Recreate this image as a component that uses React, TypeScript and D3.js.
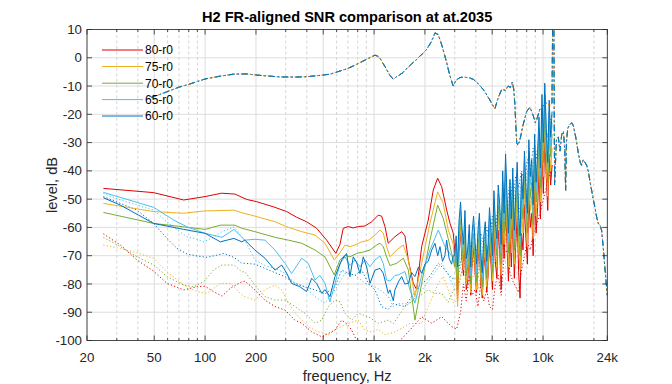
import React from "react";
import * as d3 from "d3";

// ---------- axes ----------
const X_TICKS = [20, 50, 100, 200, 500, 1000, 2000, 5000, 10000, 24000];
const X_TICK_LABELS = ["20", "50", "100", "200", "500", "1k", "2k", "5k", "10k", "24k"];
const X_MINOR = [30, 40, 60, 70, 80, 90, 300, 400, 600, 700, 800, 900, 3000, 4000, 6000, 7000, 8000, 9000, 20000];
const Y_TICKS = [10, 0, -10, -20, -30, -40, -50, -60, -70, -80, -90, -100];

const LEVELS = ["80-r0", "75-r0", "70-r0", "65-r0", "60-r0"];
const COLORS = ["#e00000", "#edb120", "#77ac30", "#4dbeee", "#0072bd"];

// ---------- FR reference curve (dash-dot) ----------
const FR_F = [48, 55, 62, 70, 81, 90, 100, 120, 147, 175,
  200, 230, 265, 300, 350, 400, 450, 548, 620, 690,
  760, 826, 900, 960, 1012, 1050, 1084, 1130, 1186, 1240,
  1298, 1350, 1420, 1482, 1560, 1640, 1720, 1786, 1860, 1950,
  2048, 2150, 2240, 2292, 2340, 2398, 2500, 2600, 2688, 2800,
  2940, 3050, 3220, 3400, 3528, 3700, 3862, 4100, 4427, 4800,
  5000, 5190, 5400, 5688, 6000, 6222, 6400, 6577, 6700, 6822,
  6900, 6980, 7100, 7300, 7600, 8000, 8360, 8700, 9000, 9160,
  9600, 10020, 10500, 11000, 11300, 11450, 11550, 11700, 12000, 12300,
  12600, 12900, 13200, 13450, 13600, 13750, 14000, 14400, 14800, 15100,
  15600, 16200, 16600, 16900, 17300, 17700, 18100, 18500, 19000, 19400,
  19800, 20300, 20700, 21200, 21700, 22200, 22700, 23200, 23600, 24000];
const FR_DB = [-14, -12.8, -11.6, -10.4, -9.3, -8.4, -7.5, -6.6, -5.8, -5.7,
  -6.1, -6.4, -6.7, -6.8, -6.8, -6.7, -6.4, -5.8, -4.8, -3.9,
  -2.8, -1.7, -0.6, 0.3, 0.9, 0.6, -0.2, -2, -4.1, -6.2,
  -7.6, -6.8, -6, -5.2, -3.8, -2.6, -1.4, -0.6, 0.5, 1.6,
  3, 5, 7.2, 8.8, 8.5, 8.2, 5, 1.5, -1.7, -6,
  -10, -8, -7, -6.8, -7, -7.2, -7.6, -9, -11.2, -14.5,
  -16.5, -18, -14.5, -11.2, -11.5, -10, -10.5, -8.6, -11, -17,
  -24, -30, -31, -29, -24, -19, -17.5, -20, -23, -22,
  -18, -17, -16, -17, -16, 30, 30, -45, -29, -28,
  -33, -27, -26, -33, -47, -30, -25, -23.5, -23, -24,
  -28, -34, -37, -38, -36, -37, -38, -40, -44, -47,
  -50, -53, -56, -58.6, -59, -61, -67, -74, -79, -84];

// ---------- solid curves, low/mid band ----------
const S80_F = [25, 49.6, 74.7, 100, 125, 150, 176, 202, 253, 304,
  348, 399, 457, 524, 594, 628, 657, 704, 753, 806,
  884, 968, 1058, 1108, 1160, 1213, 1328, 1456, 1523, 1594,
  1706, 1786, 1912, 2092, 2240, 2378, 2512, 2688, 2812, 2940];
const S80_DB = [-46.2, -47.7, -50.3, -49.1, -47.9, -48.2, -50.1, -50.9, -52.7, -54.4,
  -56.4, -58, -60.3, -64.5, -69.2, -66, -60.3, -59.7, -60.2, -59.7,
  -59.5, -58, -55.7, -56, -59.7, -65.6, -63.3, -61.5, -63, -71.5,
  -79.8, -82, -66.8, -57.4, -46.8, -42.6, -45.6, -53.8, -58.5, -62];

const S75_F = [25, 49.6, 74.7, 98, 148, 165, 197, 259, 311, 373,
  447, 512, 581, 628, 673, 720, 771, 844, 925, 1012,
  1084, 1133, 1186, 1242, 1361, 1489, 1594, 1745, 1912, 2142,
  2378, 2566, 2747, 2940];
const S75_DB = [-51.5, -54.4, -55, -54.2, -53.9, -54.8, -56, -58, -60, -61.5,
  -62.7, -65.6, -71.5, -69, -66.2, -66.8, -66.2, -65.1, -64.6, -62.7,
  -60.9, -62, -66.8, -70.4, -68, -66.2, -71.5, -84.5, -72.7, -58.5,
  -47.4, -51.5, -60.9, -66];

const S70_F = [25, 49.6, 74.7, 100, 123, 150, 165, 197, 259, 311,
  373, 447, 512, 581, 628, 673, 720, 789, 863, 946,
  1036, 1084, 1133, 1186, 1242, 1361, 1489, 1594, 1745, 1912,
  2142, 2378, 2566, 2747, 2940];
const S70_DB = [-54.7, -58.6, -59.8, -60.7, -59.2, -59.2, -60.3, -61.5, -63.5, -64.5,
  -65.6, -68, -70.4, -76.8, -71.5, -69.8, -70.4, -69.2, -68.7, -68,
  -66.2, -65.6, -66.8, -70.4, -73.5, -72.7, -70.9, -75, -92.8, -79.8,
  -64.5, -52.1, -56.8, -64, -71.5];

const S65_F = [25, 49.6, 65.2, 78.2, 100, 126, 148, 165, 172, 197,
  226, 259, 297, 325, 373, 408, 447, 478, 512, 548,
  587, 628, 673, 720, 771, 825, 884, 946, 1012, 1084,
  1133, 1186, 1242, 1328, 1391, 1523, 1630, 1745, 1912, 2142,
  2400, 2625, 2876];
const S65_DB = [-47.6, -52.9, -57.4, -59.8, -62.1, -63.5, -60.7, -63.5, -64.5, -64.2,
  -64.5, -68, -72.7, -76.3, -70.9, -72.7, -78.6, -77, -79.8, -86.3,
  -80, -72.7, -70.4, -73.5, -71.5, -73.9, -71.5, -73.9, -71.5, -70.1,
  -72.7, -78.6, -79, -77, -76.8, -75.6, -82.1, -86.8, -77, -68,
  -60.9, -66.8, -70];

const S60_F = [25, 31.5, 49.6, 74.7, 100, 123, 148, 165, 172, 197,
  226, 259, 284, 304, 325, 364, 399, 427, 457, 490,
  512, 548, 587, 643, 688, 720, 753, 789, 825, 863,
  904, 946, 1012, 1084, 1133, 1213, 1242, 1300, 1328, 1400,
  1456, 1520, 1594, 1670, 1745, 1830, 1912, 2000, 2092, 2192,
  2292, 2380, 2455, 2540, 2625, 2688, 2780, 2876, 2940];
const S60_DB = [-49.5, -52.1, -58.6, -60.7, -62.1, -65.1, -63.9, -65.1, -64.5, -68,
  -70.9, -75.1, -73.3, -76.2, -79.8, -81, -82.7, -78, -79.8, -83.3,
  -82, -84.5, -77.4, -71.5, -69.2, -77.4, -70.4, -72.5, -76.3, -70.4,
  -74, -79.8, -75.1, -74.5, -76.2, -83.3, -82.1, -86, -82.1, -79,
  -77.4, -80, -79.8, -76, -77.4, -74, -76.2, -73, -72, -68,
  -65.6, -70, -66.8, -72, -70, -64.5, -71, -73, -70];

// ---------- solid curves, noisy high band ----------
const NOISE_F = [3000, 3060, 3120, 3180, 3250, 3310, 3380, 3450, 3510, 3580,
  3660, 3730, 3800, 3880, 3960, 4040, 4120, 4200, 4280, 4370,
  4460, 4550, 4640, 4730, 4820, 4920, 5020, 5120, 5220, 5330,
  5430, 5540, 5650, 5770, 5880, 6000, 6120, 6240, 6370, 6490,
  6620, 6760, 6890, 7030, 7170, 7310, 7460, 7610, 7760, 7920,
  8080, 8240, 8400, 8570, 8740, 8920, 9100, 9280, 9460, 9650,
  9850, 10040, 10240, 10450, 10660, 10870, 11090, 11310];
const S80_HF = [-68, -74, -86, -69, -62, -71, -77, -65, -82, -79,
  -70, -84, -73, -67, -76, -83, -72, -66, -80, -85,
  -74, -69, -83, -77, -65, -73, -82, -62, -72, -78,
  -61, -68, -82, -57, -71, -52, -66, -79, -61, -74,
  -57, -78, -66, -56, -76, -85, -62, -68, -52, -64,
  -73, -48, -60, -55, -70, -46, -62, -53, -40, -57,
  -32, -48, -28, -42, -54, -34, -45, -38];
const S75_HF = [-74, -72, -88, -67, -60, -69, -75, -63, -80, -77,
  -68, -83, -71, -65, -74, -82, -70, -64, -78, -84,
  -72, -67, -81, -75, -62, -70, -79, -58, -68, -74,
  -56, -63, -77, -52, -66, -47, -61, -74, -56, -69,
  -52, -73, -60, -50, -67, -75, -54, -62, -46, -58,
  -67, -42, -54, -49, -64, -40, -56, -47, -34, -51,
  -27, -42, -22, -37, -49, -28, -40, -32];
const S70_HF = [-74, -69, -82, -64, -57, -66, -72, -60, -77, -74,
  -65, -80, -68, -62, -71, -79, -67, -61, -75, -81,
  -69, -64, -78, -72, -59, -67, -76, -54, -64, -70,
  -52, -59, -73, -48, -62, -42, -56, -69, -51, -64,
  -47, -68, -55, -45, -62, -70, -49, -57, -41, -53,
  -62, -37, -49, -44, -59, -35, -51, -42, -29, -46,
  -22, -37, -17, -32, -44, -23, -35, -27];
const S65_HF = [-72, -66, -77, -61, -54, -63, -69, -57, -74, -71,
  -62, -77, -65, -59, -68, -76, -64, -58, -72, -78,
  -66, -61, -75, -69, -56, -64, -73, -50, -61, -67,
  -48, -55, -69, -44, -58, -38, -52, -65, -47, -60,
  -43, -64, -51, -41, -58, -66, -45, -53, -37, -49,
  -58, -33, -45, -40, -55, -31, -47, -38, -25, -42,
  -17, -33, -13, -28, -40, -19, -31, -23];
const S60_HF = [-70, -63, -74, -58, -51, -60, -66, -54, -71, -68,
  -59, -74, -62, -56, -65, -73, -61, -55, -69, -76,
  -63, -58, -72, -66, -53, -61, -70, -47, -58, -64,
  -45, -52, -66, -40, -55, -34, -49, -62, -43, -57,
  -39, -61, -48, -37, -55, -63, -41, -50, -33, -46,
  -55, -29, -42, -36, -52, -27, -44, -34, -21, -39,
  -13, -30, -9, -25, -37, -15, -28, -19];

// ---------- dotted curves, low/mid band ----------
const D80_F = [25, 31.5, 39.5, 49.6, 59.5, 74.7, 89.5, 100, 112, 126,
  141, 165, 172, 197, 226, 259, 297, 340, 373, 427,
  490, 536, 587, 643, 688, 737, 789, 850, 1000, 1250,
  1456, 1630, 1912, 2192, 2512, 2876];
const D80_DB = [-62.3, -66.2, -71.5, -75.5, -79.8, -82.1, -81, -80.8, -82.7, -84.3,
  -81.5, -79.2, -79, -82.1, -85.7, -88, -89.2, -92.8, -93.9, -96.9,
  -98.7, -97.5, -96.3, -92.8, -94, -96.3, -100, -103, -104, -103,
  -99.4, -96.3, -91.6, -93.9, -91.6, -95.1];

const D75_F = [25, 31.5, 39.5, 49.6, 59.5, 74.7, 89.5, 102.6, 123, 141,
  165, 172, 197, 226, 259, 284, 311, 356, 408, 467,
  536, 587, 643, 704, 806, 884, 968, 1058, 1160, 1328,
  1523, 1630, 1912, 2092, 2400, 2566, 2747, 2950];
const D75_DB = [-66.2, -67.5, -69, -70.9, -75.7, -80.4, -82.7, -83.3, -79.8, -79.8,
  -83.9, -84.5, -85.7, -82, -80.4, -82.1, -86.8, -91.6, -95.1, -96.9,
  -98, -96.3, -95, -93.9, -92.8, -96.3, -97, -96, -98, -97,
  -95, -94, -93.9, -88, -79.8, -77.4, -82, -86.8];

const D70_F = [25, 31.5, 39.5, 49.6, 59.5, 74.7, 85.6, 98.1, 112, 126,
  148, 165, 172, 197, 226, 259, 297, 340, 390, 447,
  490, 536, 587, 628, 673, 737, 806, 925, 1058, 1213,
  1300, 1523, 1700, 2092, 2292, 2512, 2747, 2950];
const D70_DB = [-63.5, -66.8, -70.4, -73.3, -77.4, -80.4, -81, -79.2, -75.1, -73.3,
  -73.3, -75.7, -75.7, -80.4, -84.5, -85.7, -85.7, -88, -90.4, -93.9,
  -92.8, -88, -85.7, -86.3, -90.4, -92.8, -90.4, -91.6, -93.9, -92.8,
  -94, -88, -86, -82.1, -83.3, -83.3, -86.5, -82.1];

const D65_F = [25, 31.5, 39.5, 49.6, 59.5, 68.2, 78.2, 89.5, 98.1, 112,
  126, 148, 165, 172, 197, 226, 259, 297, 340, 390,
  447, 512, 587, 673, 771, 884, 1012, 1108, 1213, 1300,
  1400, 1600, 1825, 2192, 2512, 2747, 2950];
const D65_DB = [-48, -50.3, -52.1, -53.9, -58, -60.9, -63.3, -64.2, -65.1, -63.5,
  -61.5, -59.8, -63.3, -64.5, -71.5, -73.5, -74.5, -76.2, -79.8, -81,
  -84.5, -86.8, -82.1, -76.2, -76.8, -79.8, -81, -82.5, -84.5, -88,
  -87, -87, -84, -77.4, -72.7, -76.7, -81];

const D60_F = [25, 31.5, 39.5, 49.6, 59.5, 68.2, 78.2, 89.5, 102.6, 117.5,
  128.8, 148, 165, 172, 197, 226, 259, 297, 340, 390,
  447, 512, 587, 643, 704, 771, 844, 925, 1012, 1108,
  1213, 1300, 1523, 1825, 2092, 2400, 2625, 2876];
const D60_DB = [-49.1, -51.5, -53.9, -58.6, -63.9, -67.4, -69.4, -70.1, -70.6, -69.8,
  -69.2, -70.6, -72.7, -72.7, -73, -74.5, -76, -77.4, -79.8, -81,
  -82.1, -83.5, -81, -75.1, -76.2, -77, -75.1, -79.8, -82.1, -88,
  -89, -87, -88, -81, -78, -72.7, -75, -78];

// ---------- dotted curves, high band ----------
const DOT_HF_F = [3080, 3250, 3380, 3510, 3660, 3800, 3960, 4120, 4280, 4460,
  4640, 4820, 5020, 5220, 5430, 5650, 5880, 6120, 6370, 6620,
  6890, 7170, 7460, 7760, 8080, 8400, 8740, 9100, 9460, 9850,
  10240, 10660, 11090, 11310];
const D80_HF = [-96, -90, -80, -86, -77, -84, -82, -88, -80, -86,
  -82, -88, -89, -80, -77, -84, -70, -68, -76, -79,
  -81, -83, -75, -70, -65, -68, -62, -60, -56, -52,
  -48, -44, -40, -38];
const D75_HF = [-86, -76, -74, -80, -72, -78, -76, -82, -77, -72,
  -76, -70, -68, -74, -66, -62, -70, -60, -64, -58,
  -66, -56, -60, -52, -56, -50, -48, -52, -44, -40,
  -42, -36, -34, -32];
const D70_HF = [-82, -78, -72, -76, -70, -74, -70, -78, -68, -72,
  -66, -70, -62, -66, -60, -64, -56, -62, -54, -58,
  -52, -56, -48, -52, -46, -50, -42, -46, -38, -42,
  -34, -36, -30, -28];
const D65_HF = [-80, -74, -70, -74, -66, -72, -68, -72, -64, -70,
  -62, -66, -58, -62, -54, -60, -52, -56, -48, -54,
  -46, -50, -44, -48, -40, -44, -36, -40, -32, -36,
  -28, -32, -26, -24];
const D60_HF = [-78, -72, -68, -72, -64, -70, -66, -70, -62, -66,
  -60, -64, -56, -60, -52, -56, -48, -52, -44, -50,
  -42, -46, -40, -44, -36, -40, -32, -36, -28, -32,
  -24, -28, -22, -20];

const SOLID = [
  [S80_F, S80_DB, S80_HF],
  [S75_F, S75_DB, S75_HF],
  [S70_F, S70_DB, S70_HF],
  [S65_F, S65_DB, S65_HF],
  [S60_F, S60_DB, S60_HF],
];
const DOTTED = [
  [D80_F, D80_DB, D80_HF],
  [D75_F, D75_DB, D75_HF],
  [D70_F, D70_DB, D70_HF],
  [D65_F, D65_DB, D65_HF],
  [D60_F, D60_DB, D60_HF],
];

const FONT = "'Liberation Sans', Arial, Helvetica, sans-serif";

export default function App() {
  const L = 87, R = 607.3, T = 29.5, B = 340.5;
  const x = d3.scaleLog().domain([20, 24000]).range([L, R]);
  const y = d3.scaleLinear().domain([-100, 10]).range([B, T]);
  const line = d3.line<[number, number]>().x((d) => x(d[0])).y((d) => y(d[1]));
  const zip = (f: number[], v: number[]) => f.map((ff, i) => [ff, v[i]] as [number, number]);

  const solidPaths = SOLID.map(([f, v, hf]) => line([...zip(f, v), ...zip(NOISE_F, hf)]) as string);
  const dottedPaths = DOTTED.map(([f, v, hf]) => line([...zip(f, v), ...zip(DOT_HF_F, hf)]) as string);
  const frPath = line(zip(FR_F, FR_DB)) as string;
  const axisColor = "#262626";

  return (
    <svg width={672} height={384} style={{ position: "fixed", left: 0, top: 0, background: "#fff" }} fontFamily={FONT}>
      <rect x={0} y={0} width={672} height={384} fill="#fff" />
      <defs>
        <clipPath id="plotclip">
          <rect x={L} y={T} width={R - L} height={B - T} />
        </clipPath>
      </defs>
      {/* grid */}
      {Y_TICKS.map((t) => (
        <line key={"gy" + t} x1={L} x2={R} y1={y(t)} y2={y(t)} stroke="#dedede" strokeWidth={1} />
      ))}
      {X_TICKS.map((t) => (
        <line key={"gx" + t} x1={x(t)} x2={x(t)} y1={T} y2={B} stroke="#dedede" strokeWidth={1} />
      ))}
      {X_MINOR.map((t) => (
        <line key={"gm" + t} x1={x(t)} x2={x(t)} y1={T} y2={B} stroke="#d6d6d6" strokeWidth={1} strokeDasharray="3,2.5" />
      ))}
      <g clipPath="url(#plotclip)" fill="none">
        {dottedPaths.map((p, i) => (
          <path key={"d" + i} d={p} stroke={COLORS[i]} strokeWidth={1} strokeDasharray="1.2,2.2" />
        ))}
        {solidPaths.map((p, i) => (
          <path key={"s" + i} d={p} stroke={COLORS[i]} strokeWidth={1} strokeLinejoin="round" />
        ))}
        {COLORS.map((c, i) => (
          <path key={"fr" + i} d={frPath} stroke={c} strokeWidth={1} strokeDasharray="6,3,1.5,3" strokeDashoffset={(4 - i) * 0.35} />
        ))}
      </g>
      {/* axes box */}
      <rect x={L} y={T} width={R - L} height={B - T} fill="none" stroke={axisColor} strokeWidth={0.8} />
      {X_TICKS.map((t) => (
        <g key={"xt" + t}>
          <line x1={x(t)} x2={x(t)} y1={B} y2={B - 5} stroke={axisColor} strokeWidth={0.8} />
          <line x1={x(t)} x2={x(t)} y1={T} y2={T + 5} stroke={axisColor} strokeWidth={0.8} />
        </g>
      ))}
      {X_MINOR.map((t) => (
        <g key={"xm" + t}>
          <line x1={x(t)} x2={x(t)} y1={B} y2={B - 2.5} stroke={axisColor} strokeWidth={0.8} />
          <line x1={x(t)} x2={x(t)} y1={T} y2={T + 2.5} stroke={axisColor} strokeWidth={0.8} />
        </g>
      ))}
      {Y_TICKS.map((t) => (
        <g key={"yt" + t}>
          <line x1={L} x2={L + 5} y1={y(t)} y2={y(t)} stroke={axisColor} strokeWidth={0.8} />
          <line x1={R} x2={R - 5} y1={y(t)} y2={y(t)} stroke={axisColor} strokeWidth={0.8} />
          <text x={L - 5} y={y(t) + 4.6} textAnchor="end" fontSize={13.3} fill={axisColor}>{t}</text>
        </g>
      ))}
      {X_TICKS.map((t, i) => (
        <text key={"xl" + t} x={x(t)} y={362} textAnchor="middle" fontSize={13.3} fill={axisColor}>{X_TICK_LABELS[i]}</text>
      ))}
      <text x={(L + R) / 2} y={381} textAnchor="middle" fontSize={14.6} fill={axisColor}>frequency, Hz</text>
      <text transform={`translate(57,${(T + B) / 2}) rotate(-90)`} textAnchor="middle" fontSize={14.6} fill={axisColor}>level, dB</text>
      <text x={(L + R) / 2} y={22} textAnchor="middle" fontSize={14.6} fontWeight="bold" fill="#000">H2 FR-aligned SNR comparison at at.2035</text>
      {/* legend */}
      {LEVELS.map((lab, i) => {
        const ly = [50, 66.5, 83.2, 99.6, 116][i];
        return (
          <g key={"lg" + i}>
            <line x1={102} x2={143} y1={ly} y2={ly} stroke={COLORS[i]} strokeWidth={1} />
            <text x={145} y={ly + 4.3} fontSize={12} fill="#000">{lab}</text>
          </g>
        );
      })}
    </svg>
  );
}
